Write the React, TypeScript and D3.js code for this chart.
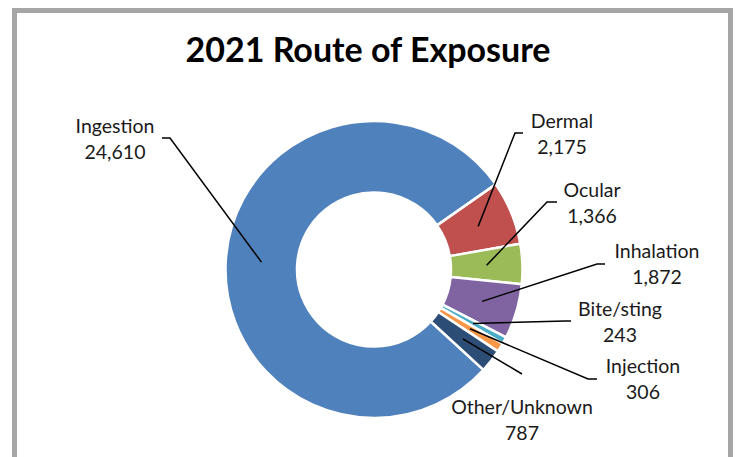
import * as React from "react";
import * as d3 from "d3";

// chart data
const routes = ["Ingestion", "Dermal", "Ocular", "Inhalation", "Bite/sting", "Injection", "Other/Unknown"];
const counts = [24610, 2175, 1366, 1872, 243, 306, 787];
const colors = ["#4F81BD", "#C0504D", "#9BBB59", "#8064A2", "#4BACC6", "#F79646", "#2C4D75"];
const title = "2021 Route of Exposure";

// manual label placement (Excel style): text centre, first baseline, leader start and elbow
const labelLayout = [
  { x: 115, y: 133, from: [162, 138], elbow: [170, 138] },
  { x: 562, y: 128, from: [523, 133], elbow: [515, 133] },
  { x: 592, y: 197, from: [557, 202], elbow: [547, 202] },
  { x: 657, y: 258, from: [605, 264], elbow: [597, 264] },
  { x: 620, y: 316, from: [571, 321], elbow: [565, 321] },
  { x: 643, y: 373, from: [597, 379], elbow: [588, 379] },
  { x: 522, y: 414, from: [522, 374], elbow: [522, 374] },
];

const W = 735;
const H = 457;
const cx = 374;
const cy = 269.5;
const outerR = 148.5;
const innerR = 77;
const startDeg = 132.5;

export default function App() {
  const fmt = d3.format(",");
  const rows = routes.map((r, i) => ({ route: r, count: counts[i], color: colors[i] }));

  const pie = d3.pie<any>()
    .sort(null)
    .value((d: any) => d.count)
    .startAngle((startDeg * Math.PI) / 180)
    .endAngle((startDeg * Math.PI) / 180 + 2 * Math.PI);
  const arc = d3.arc<any>().innerRadius(innerR).outerRadius(outerR);
  const arcs = pie(rows);

  return (
    <svg width={W} height={H} style={{ position: "absolute", left: 0, top: 0, background: "#fff" }}>
      <rect x={0} y={0} width={W} height={H} fill="#fff" />
      <rect x={14.5} y={10.5} width={716} height={H + 20} fill="#fff" stroke="#a6a6a6" strokeWidth={5} />
      <text x={368} y={62} textAnchor="middle" fontFamily="Lato, 'Open Sans', sans-serif"
        fontWeight="bold" fontSize={34} fill="#000">{title}</text>

      <g transform={`translate(${cx},${cy})`}>
        {arcs.map((a: any, i: number) => (
          <path key={i} d={arc(a) as string} fill={a.data.color} stroke="#fff" strokeWidth={2.5} strokeLinejoin="round" />
        ))}
      </g>

      <g fill="none" stroke="#000" strokeWidth={1.5}>
        {arcs.map((a: any, i: number) => {
          const [px, py] = arc.centroid(a);
          const L = labelLayout[i];
          const pts = [L.from, L.elbow, [cx + px, cy + py]];
          return <path key={i} d={d3.line()(pts as [number, number][]) as string} />;
        })}
      </g>

      <g fontFamily="Lato, 'Open Sans', sans-serif" fontSize={19.5} fill="#1a1a1a" textAnchor="middle">
        {rows.map((r, i) => (
          <text key={i} x={labelLayout[i].x} y={labelLayout[i].y}>
            <tspan x={labelLayout[i].x}>{r.route}</tspan>
            <tspan x={labelLayout[i].x} dy={26}>{fmt(r.count)}</tspan>
          </text>
        ))}
      </g>
    </svg>
  );
}
